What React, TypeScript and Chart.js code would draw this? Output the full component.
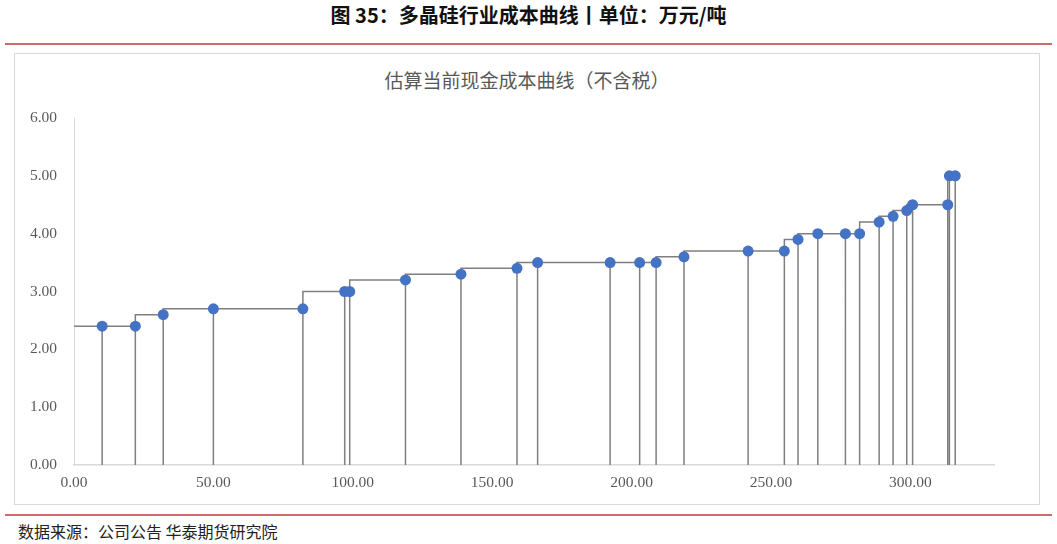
import { useEffect, useRef } from 'react';
import { Chart, registerables } from 'chart.js';

Chart.register(...registerables);

// 累计产能（万吨）与对应现金成本（万元/吨）
const capacity = [
  10.1, 22.0, 32.0, 50.0, 82.1, 97.1, 98.9, 118.9, 138.8, 158.9, 166.3, 192.3, 202.9, 208.8,
  218.8, 241.8, 254.8, 259.7, 266.8, 276.7, 281.8, 288.8, 293.8, 298.7, 300.8, 313.4, 314.0, 316.1,
];
const cost = [
  2.4, 2.4, 2.6, 2.7, 2.7, 3.0, 3.0, 3.2, 3.3, 3.4, 3.5, 3.5, 3.5, 3.5,
  3.6, 3.7, 3.7, 3.9, 4.0, 4.0, 4.0, 4.2, 4.3, 4.4, 4.5, 4.5, 5.0, 5.0,
];
const xTicks = [0, 50, 100, 150, 200, 250, 300];

const LINE = '#7f7f7f';
const DOT = '#4472C4';
const AXIS = '#d9d9d9';
const LABEL = '#595959';

export default function App() {
  const canvasRef = useRef<HTMLCanvasElement>(null);
  const chartRef = useRef<Chart | null>(null);

  useEffect(() => {
    if (!canvasRef.current) return;
    const ctx = canvasRef.current.getContext('2d');
    if (!ctx) return;

    // 阶梯线：从原点开始
    const stepData = [{ x: 0, y: cost[0] }, ...capacity.map((x, i) => ({ x, y: cost[i] }))];
    // 每个点到横轴的竖线
    const dropData: { x: number; y: number | null }[] = [];
    capacity.forEach((x, i) => {
      dropData.push({ x, y: 0 }, { x, y: cost[i] }, { x, y: null });
    });
    const dotData = capacity.map((x, i) => ({ x, y: cost[i] }));

    chartRef.current = new Chart(ctx, {
      type: 'scatter',
      data: {
        datasets: [
          {
            data: dotData,
            showLine: false,
            pointRadius: 5.5,
            pointBackgroundColor: DOT,
            pointBorderColor: DOT,
            pointBorderWidth: 0,
            order: 0,
          },
          {
            data: stepData,
            showLine: true,
            stepped: 'after',
            borderColor: LINE,
            borderWidth: 1.5,
            pointRadius: 0,
            order: 1,
          },
          {
            data: dropData,
            showLine: true,
            spanGaps: false,
            borderColor: LINE,
            borderWidth: 1.5,
            pointRadius: 0,
            order: 2,
          },
        ],
      },
      options: {
        animation: false,
        responsive: true,
        maintainAspectRatio: false,
        layout: { padding: { top: 18, right: 45, left: 0, bottom: 0 } },
        plugins: {
          legend: { display: false },
          tooltip: { enabled: false },
        },
        scales: {
          x: {
            type: 'linear',
            min: 0,
            max: 330,
            grid: { display: false, drawTicks: false },
            border: { display: true, color: AXIS, width: 1.5 },
            afterFit: (scale: any) => {
              scale.height = 39;
            },
            afterBuildTicks: (scale: any) => {
              scale.ticks = xTicks.map((v) => ({ value: v }));
            },
            ticks: {
              padding: 9,
              color: LABEL,
              font: { family: '"Liberation Serif", serif', size: 15.5 },
              maxRotation: 0,
              callback: (v: any) => Number(v).toFixed(2),
            },
          },
          y: {
            min: 0,
            max: 6,
            grid: { display: false, drawTicks: false },
            border: { display: true, color: AXIS, width: 1 },
            afterFit: (scale: any) => {
              scale.width = 59;
              scale.paddingTop = 8;
              scale.paddingBottom = 8;
            },
            ticks: {
              stepSize: 1,
              padding: 17,
              color: LABEL,
              font: { family: '"Liberation Serif", serif', size: 15.5 },
              callback: (v: any) => Number(v).toFixed(2),
            },
          },
        },
      },
    });

    return () => {
      if (chartRef.current) chartRef.current.destroy();
      chartRef.current = null;
    };
  }, []);

  return (
    <div
      style={{
        position: 'fixed',
        left: 0,
        top: 0,
        width: 1057,
        height: 544,
        background: '#fff',
        fontFamily: '"Noto Sans CJK SC", sans-serif',
      }}
    >
      <div
        style={{
          position: 'absolute',
          top: 3,
          left: 0,
          width: 1057,
          textAlign: 'center',
          fontSize: 20,
          fontWeight: 'bold',
          lineHeight: '24px',
          color: '#111',
        }}
      >
        图 35：多晶硅行业成本曲线丨单位：万元/吨
      </div>
      <div style={{ position: 'absolute', top: 43, left: 5, width: 1047, height: 2, background: '#cc6b6b' }} />

      {/* 图表框 */}
      <div
        style={{
          position: 'absolute',
          top: 53,
          left: 14,
          width: 1024,
          height: 450,
          border: '1px solid ' + AXIS,
        }}
      />
      <div
        style={{
          position: 'absolute',
          top: 67,
          left: 15,
          width: 1024,
          textAlign: 'center',
          fontSize: 19,
          lineHeight: '26px',
          color: LABEL,
        }}
      >
        估算当前现金成本曲线（不含税）
      </div>
      <div style={{ position: 'absolute', left: 15, top: 100, width: 1024, height: 404 }}>
        <canvas ref={canvasRef}></canvas>
      </div>

      <div style={{ position: 'absolute', top: 514, left: 5, width: 1047, height: 2, background: '#cc6b6b' }} />
      <div
        style={{
          position: 'absolute',
          top: 520,
          left: 18,
          fontSize: 16,
          lineHeight: '22px',
          color: '#222',
        }}
      >
        数据来源：公司公告 华泰期货研究院
      </div>
    </div>
  );
}
